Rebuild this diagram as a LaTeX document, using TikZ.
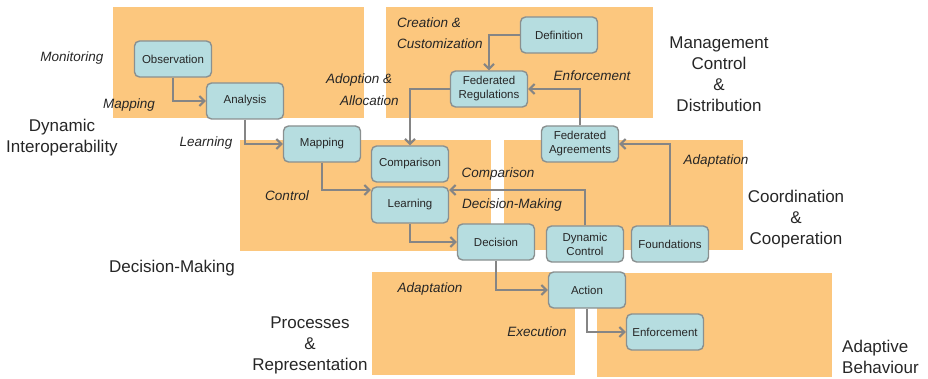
\documentclass[tikz,border=0pt]{standalone}
\usepackage{fontspec}
\setmainfont{Liberation Sans}
\usetikzlibrary{arrows.meta}
\definecolor{zone}{HTML}{FCC77E}
\definecolor{boxfill}{HTML}{B6DDE0}
\definecolor{boxline}{HTML}{8A9090}
\definecolor{conn}{HTML}{858585}
\definecolor{txt}{HTML}{262626}
\begin{document}
\begin{tikzpicture}[x=1pt,y=-1pt,
  zonebox/.style={fill=zone,draw=none},
  proc/.style={draw=boxline,line width=1.4pt,fill=boxfill,rounded corners=5pt,
    minimum width=77pt,minimum height=36pt,inner sep=1pt,align=center,
    text=txt,font=\fontsize{11.5}{14}\selectfont},
  lab/.style={text=txt,font=\fontsize{13.5}{20}\selectfont\itshape,inner sep=0pt,align=left},
  big/.style={text=txt,font=\fontsize{17}{21}\selectfont,inner sep=0pt,align=center},
  flow/.style={draw=conn,line width=2pt,-{Straight Barb[length=5pt,width=10pt]}}]
\useasboundingbox (0,0) rectangle (928,379);
% zones
\fill[zonebox] (113,7) rectangle (364,118);
\fill[zonebox] (386,7) rectangle (653,118);
\fill[zonebox] (240,140) rectangle (491,251);
\fill[zonebox] (504,140) rectangle (743,250);
\fill[zonebox] (372,272) rectangle (575,375);
\fill[zonebox] (597,273) rectangle (832,377);
% nodes
\node[proc] (obs) at (173,59) {Observation};
\node[proc] (ana) at (245,101) {Analysis};
\node[proc] (map) at (322,144) {Mapping};
\node[proc] (def) at (559,35) {Definition};
\node[proc] (freg) at (489,89) {Federated\\Regulations};
\node[proc] (cmp) at (410,164) {Comparison};
\node[proc] (fagr) at (580,144) {Federated\\Agreements};
\node[proc] (lea) at (410,205) {Learning};
\node[proc] (dec) at (496,242) {Decision};
\node[proc] (dyn) at (585,244) {Dynamic\\Control};
\node[proc] (fnd) at (670,244) {Foundations};
\node[proc] (act) at (587,290) {Action};
\node[proc] (enf) at (665,332) {Enforcement};
% connectors
\draw[flow] (obs.south) |- (ana.west);
\draw[flow] (ana.south) |- (map.west);
\draw[flow] (map.south) |- ([yshift=15pt]lea.west);
\draw[flow] (lea.south) |- (dec.west);
\draw[flow] (dec.south) |- (act.west);
\draw[flow] (act.south) |- (enf.west);
\draw[flow] (dyn.north) |- ([yshift=15pt]lea.east);
\draw[flow] (fnd.north) |- (fagr.east);
\draw[flow] (fagr.north) |- (freg.east);
\draw[flow] (def.west) -| (freg.north);
\draw[flow] (freg.west) -| (cmp.north);
% italic labels
\node[lab] (l1) at (72,58) {Monitoring};
\node[lab] (l2) at (129,105) {Mapping};
\node[lab] (l3) at (206,143) {Learning};
\node[lab,anchor=west] (l4) at (397,23) {Creation \&};
\node[lab,anchor=west] (l5) at (397,44) {Customization};
\node[lab,anchor=west] (l6) at (326,80) {Adoption \&};
\node[lab,anchor=west] (l7) at (340,101) {Allocation};
\node[lab] (l8) at (592,76) {Enforcement};
\node[lab] (l9) at (498,174) {Comparison};
\node[lab] (l10) at (512,205) {Decision-Making};
\node[lab] (l11) at (287,196) {Control};
\node[lab] (l12) at (716,161) {Adaptation};
\node[lab] (l13) at (430,289) {Adaptation};
\node[lab] (l14) at (537,332) {Execution};
% big labels
\node[big] (b1) at (62,138) {Dynamic\\Interoperability};
\node[big] (b2) at (719,74) {Management\\Control\\\&\\Distribution};
\node[big] (b3) at (796,219) {Coordination\\\&\\Cooperation};
\node[big] (b4) at (172,268) {Decision-Making};
\node[big] (b5) at (310,345) {Processes\\\&\\Representation};
\node[big,align=left,anchor=west] (b6) at (842,357) {Adaptive\\Behaviour};
\end{tikzpicture}
\end{document}
